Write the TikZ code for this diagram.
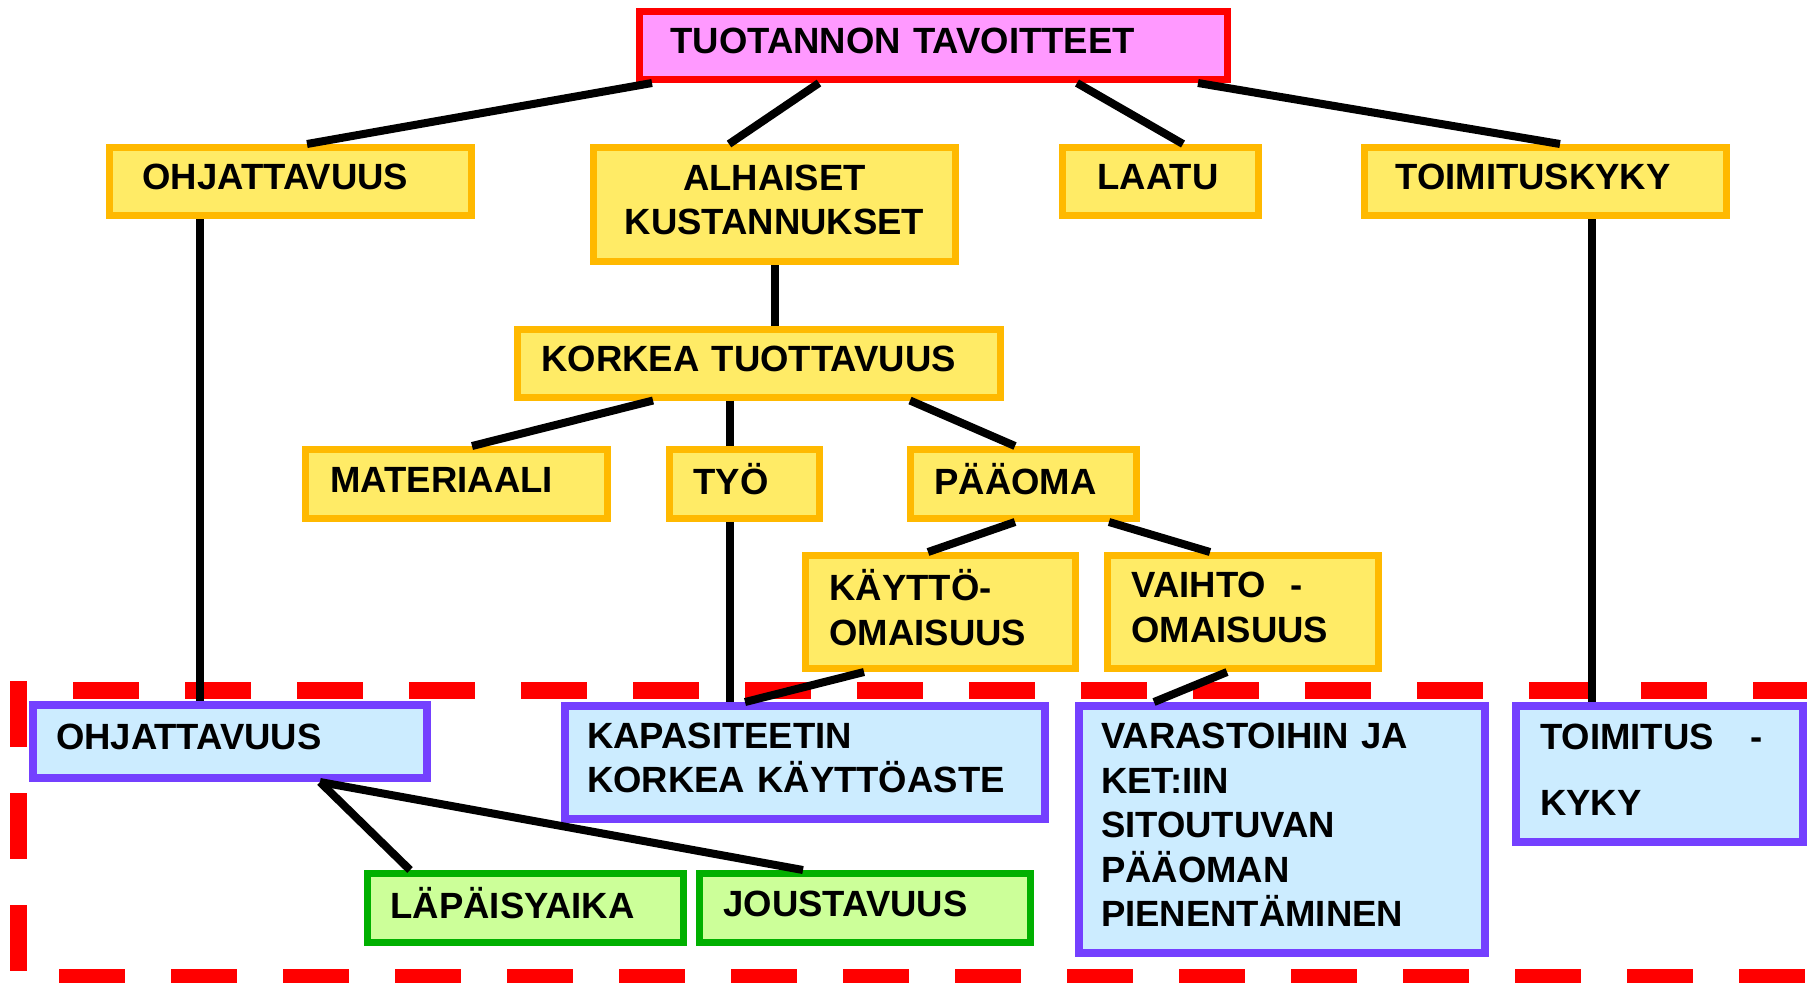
\documentclass[tikz,border=0pt]{standalone}
\usepackage{fontspec}
\setmainfont{Liberation Sans}
\definecolor{yfill}{RGB}{255,235,102}
\definecolor{yborder}{RGB}{255,185,0}
\definecolor{bfill}{RGB}{204,236,255}
\definecolor{bborder}{RGB}{116,64,255}
\definecolor{gfill}{RGB}{204,255,153}
\definecolor{gborder}{RGB}{0,176,0}
\definecolor{pfill}{RGB}{255,153,255}
\definecolor{rborder}{RGB}{255,0,0}
\tikzset{
  box/.style={draw, rectangle, inner ysep=0pt, align=left,
    font=\bfseries\fontsize{18.25}{22.25}\selectfont,
    execute at end node={\par\vspace*{4.5pt}}},
  ybox/.style={box, fill=yfill, draw=yborder, line width=3.5pt},
  bbox/.style={box, fill=bfill, draw=bborder, line width=4pt},
  gbox/.style={box, fill=gfill, draw=gborder, line width=3.5pt},
  pbox/.style={box, fill=pfill, draw=rborder, line width=3.5pt},
  conn/.style={line width=4pt, black},
  reddash/.style={line width=8.5pt, rborder, dash pattern=on 33pt off 23pt}
}
\begin{document}
\begin{tikzpicture}[x=0.5pt,y=-0.5pt]
\useasboundingbox (0,0) rectangle (1807,982);
% boxes
\node[pbox, minimum width=294pt, minimum height=34pt, text width=263pt, inner xsep=15.5pt] (top) at (933.5,45.5) {TUOTANNON TAVOITTEET};
\node[ybox, minimum width=181pt, minimum height=34pt, text width=148pt, inner xsep=16.5pt] (ohj1) at (290.5,181.5) {OHJATTAVUUS};
\node[ybox, minimum width=181pt, minimum height=57pt, text width=161pt, inner xsep=10pt, align=center] (alh) at (774.5,204.5) {ALHAISET\\KUSTANNUKSET};
\node[ybox, minimum width=98pt, minimum height=34pt, text width=63pt, inner xsep=17.5pt] (laatu) at (1160.5,181.5) {LAATU};
\node[ybox, minimum width=181pt, minimum height=34pt, text width=150pt, inner xsep=15.5pt] (toim1) at (1545.5,181.5) {TOIMITUSKYKY};
\node[ybox, minimum width=241.5pt, minimum height=34pt, text width=217.5pt, inner xsep=12pt] (korkea) at (759,363) {KORKEA TUOTTAVUUS};
\node[ybox, minimum width=151pt, minimum height=34.5pt, text width=126pt, inner xsep=12.5pt] (mat) at (456.5,484) {MATERIAALI};
\node[ybox, minimum width=75pt, minimum height=34.5pt, text width=51pt, inner xsep=12pt] (tyo) at (744.5,484) {TYÖ};
\node[ybox, minimum width=113pt, minimum height=34.5pt, text width=89pt, inner xsep=12pt] (paaoma) at (1023.5,484) {PÄÄOMA};
\node[ybox, minimum width=135pt, minimum height=56.5pt, text width=111pt, inner xsep=12pt] (kaytto) at (940.5,612) {KÄYTTÖ-\\OMAISUUS};
\node[ybox, minimum width=135.5pt, minimum height=56.5pt, text width=111.5pt, inner xsep=12pt] (vaihto) at (1243,612) {VAIHTO~~-\\OMAISUUS};
\node[bbox, minimum width=197pt, minimum height=36.5pt, text width=174pt, inner xsep=11.5pt] (ohj2) at (230,741.5) {OHJATTAVUUS};
\node[bbox, minimum width=240pt, minimum height=56.5pt, text width=218pt, inner xsep=11pt] (kapas) at (805,762.5) {KAPASITEETIN\\KORKEA KÄYTTÖASTE};
\node[bbox, minimum width=203pt, minimum height=123.5pt, text width=181pt, inner xsep=11pt] (varast) at (1282,829.5) {VARASTOIHIN JA\\KET:IIN\\SITOUTUVAN\\PÄÄOMAN\\PIENENTÄMINEN};
\node[bbox, minimum width=143.5pt, minimum height=68pt, text width=119.5pt, inner xsep=12pt] (toim2) at (1659.5,774) {TOIMITUS~~~-\\[10.75pt]KYKY};
\node[gbox, minimum width=158pt, minimum height=34.5pt, text width=135pt, inner xsep=11.5pt] (lapa) at (525.5,908) {LÄPÄISYAIKA};
\node[gbox, minimum width=165.5pt, minimum height=34.5pt, text width=141.5pt, inner xsep=12pt] (jous) at (865,908) {JOUSTAVUUS};
% dashed frame
\begin{scope}
\clip (0,0) rectangle (1807,982);
\draw[reddash] (18.5,681) -- (18.5,1100);
\draw[reddash] (73,690) -- (1900,690);
\draw[reddash] (59,977.5) -- (1900,977.5);
\end{scope}
% connectors
\draw[conn] ([xshift=-140.75pt]top.south) -- ([xshift=8.25pt]ohj1.north);
\draw[conn] ([xshift=-57.25pt]top.south) -- ([xshift=-22.75pt]alh.north);
\draw[conn] ([xshift=71.75pt]top.south) -- ([xshift=11.25pt]laatu.north);
\draw[conn] ([xshift=132.25pt]top.south) -- ([xshift=7.25pt]toim1.north);
\draw[conn] ([xshift=-45.5pt]ohj1.south) -- ([xshift=-15.25pt]ohj2.north);
\draw[conn] (alh.south) -- ([xshift=7.75pt]korkea.north);
\draw[conn] ([xshift=-53pt]korkea.south) -- ([xshift=7.75pt]mat.north);
\draw[conn] ([xshift=-14.5pt]korkea.south) -- ([xshift=-7.25pt]tyo.north);
\draw[conn] ([xshift=75.5pt]korkea.south) -- ([xshift=-4.25pt]paaoma.north);
\draw[conn] ([xshift=-4.25pt]paaoma.south) -- ([xshift=-6.25pt]kaytto.north);
\draw[conn] ([xshift=42.75pt]paaoma.south) -- ([xshift=-16.5pt]vaihto.north);
\draw[conn] ([xshift=-7.25pt]tyo.south) -- ([xshift=-37.5pt]kapas.north);
\draw[conn] ([xshift=-38.25pt]kaytto.south) -- ([xshift=-30pt]kapas.north);
\draw[conn] ([xshift=-8pt]vaihto.south) -- ([xshift=-64pt]varast.north);
\draw[conn] ([xshift=23pt]toim1.south) -- ([xshift=-34pt]toim2.north);
\draw[conn] ([xshift=45pt]ohj2.south) -- ([xshift=-57.75pt]lapa.north);
\draw[conn] ([xshift=45pt]ohj2.south) -- ([xshift=-31pt]jous.north);
\end{tikzpicture}
\end{document}
